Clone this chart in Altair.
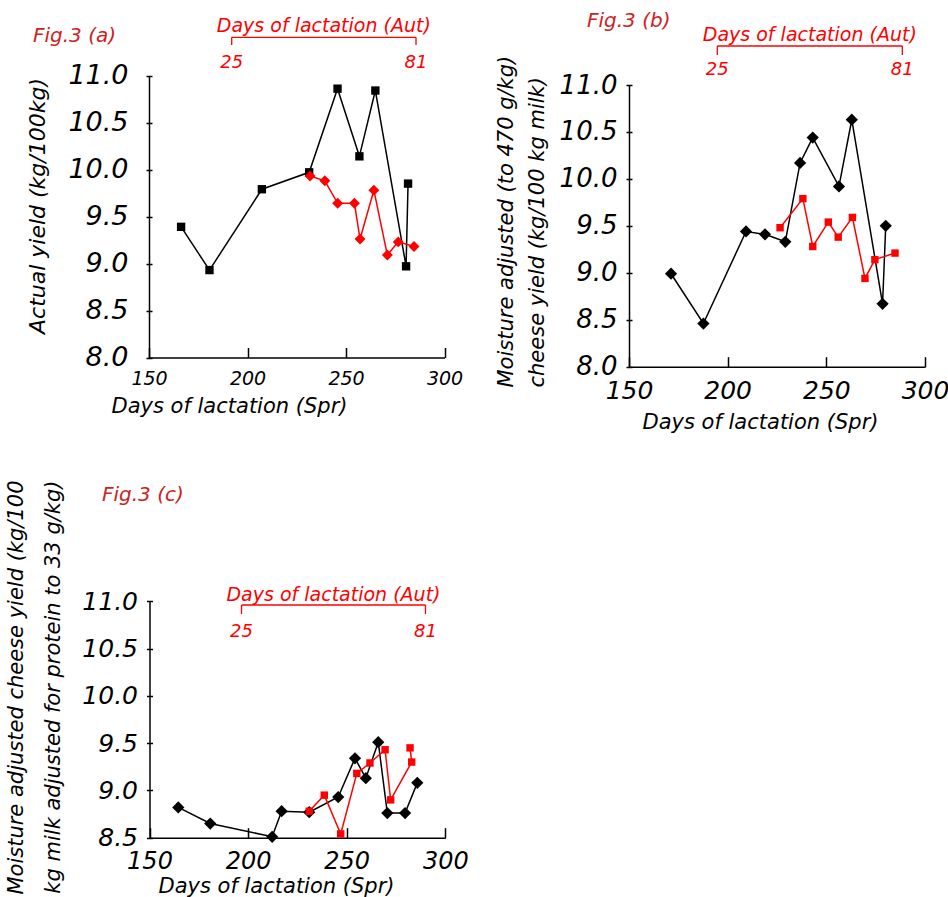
import altair as alt
import pandas as pd

# ------------------------------------------------------------------ data
spr_ticks = [150, 200, 250, 300]
aut_ticks = [25, 81]
yield_ticks_ab = [8.0, 8.5, 9.0, 9.5, 10.0, 10.5, 11.0]
yield_ticks_c = [8.5, 9.0, 9.5, 10.0, 10.5, 11.0]

# Fig.3 (a) actual yield
a_spr_days = [166.3, 180.7, 207.3, 231.3, 245.7, 256.8, 264.9, 280.5, 281.5]
a_spr_yield = [9.39, 8.93, 9.79, 9.97, 10.86, 10.14, 10.84, 8.97, 9.85]
a_aut_days = [48.8, 53.3, 57.2, 62.3, 64.0, 68.2, 72.3, 75.6, 80.4]
a_aut_yield = [9.93, 9.88, 9.64, 9.64, 9.26, 9.78, 9.09, 9.23, 9.18]

# Fig.3 (b) moisture adjusted yield
b_spr_days = [171.3, 187.7, 209.3, 218.9, 229.2, 236.7, 243.1, 256.4, 262.9, 278.5, 280.1]
b_spr_yield = [8.99, 8.46, 9.44, 9.41, 9.33, 10.17, 10.44, 9.92, 10.63, 8.67, 9.50]
b_aut_days = [44.0, 50.9, 53.9, 58.6, 61.6, 65.9, 69.7, 72.7, 78.8]
b_aut_yield = [9.48, 9.79, 9.28, 9.54, 9.38, 9.59, 8.94, 9.14, 9.21]

# Fig.3 (c) moisture + protein adjusted yield
c_spr_days = [164.6, 180.8, 212.2, 217.0, 231.0, 245.7, 254.2, 259.7, 266.0, 270.6, 279.6, 285.8]
c_spr_yield = [8.82, 8.65, 8.51, 8.78, 8.77, 8.93, 9.34, 9.13, 9.51, 8.76, 8.76, 9.08]
c_aut_days = [45.6, 50.2, 55.2, 60.1, 64.1, 68.7, 70.4, 76.8, 76.3]
c_aut_yield = [8.78, 8.95, 8.54, 9.18, 9.29, 9.43, 8.90, 9.30, 9.45]

# ------------------------------------------------------------------ styling / layout
FONT = "DejaVu Sans"
RED = "#ff0000"
FIGRED = "#cc2222"
W, H = 948, 897

panels = [
    dict(fig="Fig.3 (a)", spr=(a_spr_days, a_spr_yield), aut=(a_aut_days, a_aut_yield),
         x_range=[149, 444.5], y_range=[357.5, 75.5], y_domain=[8, 11], aut_domain=[-0.13, 89.66],
         yticks=yield_ticks_ab, ylab_size=27, ylab_pad=18, xlab_size=19, xlab_pad=12,
         ytitle="Actual yield (kg/100kg)", ytitle_x=37, ytitle_y=205.5, ytitle_align="center",
         ytitle_size=22, ytitle_lh=30,
         xtitle_x=229, xtitle_base=412, xtitle_size=21,
         black_shape="square", black_size=70, red_shape="diamond", red_size=120,
         aut_line_y=37.3, aut_tick_y2=45, aut_label_y=68, aut_title_y=31.7,
         fig_x=33, fig_y=41.7),
    dict(fig="Fig.3 (b)", spr=(b_spr_days, b_spr_yield), aut=(b_aut_days, b_aut_yield),
         x_range=[629, 925], y_range=[366.7, 85], y_domain=[8, 11], aut_domain=[-1.73, 87.87],
         yticks=yield_ticks_ab, ylab_size=26, ylab_pad=9, xlab_size=25, xlab_pad=12,
         ytitle=["Moisture adjusted (to 470 g/kg)", "cheese yield (kg/100 kg milk)"],
         ytitle_x=506, ytitle_y=387, ytitle_align="left", ytitle_size=21, ytitle_lh=31,
         xtitle_x=760, xtitle_base=428, xtitle_size=21,
         black_shape="diamond", black_size=150, red_shape="square", red_size=55,
         aut_line_y=46, aut_tick_y2=55, aut_label_y=75, aut_title_y=40.7,
         fig_x=587, fig_y=26.7),
    dict(fig="Fig.3 (c)", spr=(c_spr_days, c_spr_yield), aut=(c_aut_days, c_aut_yield),
         x_range=[149.5, 445.3], y_range=[837.7, 601.3], y_domain=[8.5, 11], aut_domain=[-3.0, 87.03],
         yticks=yield_ticks_c, ylab_size=25, ylab_pad=9, xlab_size=24, xlab_pad=12,
         ytitle=["Moisture adjusted cheese yield (kg/100", "kg milk adjusted for protein to 33 g/kg)"],
         ytitle_x=16, ytitle_y=480, ytitle_align="right", ytitle_size=21, ytitle_lh=37,
         xtitle_x=276, xtitle_base=892, xtitle_size=21,
         black_shape="diamond", black_size=150, red_shape="square", red_size=55,
         aut_line_y=605, aut_tick_y2=614, aut_label_y=636.7, aut_title_y=600.7,
         fig_x=102, fig_y=500.7),
]


def build_panel(p):
    x0 = p["x_range"][0]
    ybot = p["y_range"][0]
    spr_sc = alt.Scale(domain=[150, 300], range=p["x_range"], nice=False, zero=False)
    aut_sc = alt.Scale(domain=p["aut_domain"], range=p["x_range"], nice=False, zero=False)
    y_sc = alt.Scale(domain=p["y_domain"], range=p["y_range"], nice=False, zero=False)

    spr_df = pd.DataFrame({"day": p["spr"][0], "yld": p["spr"][1],
                           "ord": list(range(len(p["spr"][0])))})
    aut_df = pd.DataFrame({"day": p["aut"][0], "yld": p["aut"][1],
                           "ord": list(range(len(p["aut"][0])))})

    x_axis_main = alt.Axis(
        orient="bottom", offset=ybot - 10 - H, values=spr_ticks, format="d",
        domain=False, ticks=True, tickSize=10, tickWidth=1.5, tickColor="black", grid=False,
        labelFont=FONT, labelFontStyle="italic", labelFontSize=p["xlab_size"], labelColor="black",
        labelPadding=p["xlab_pad"], labelFlush=False, labelOverlap=False,
        title="Days of lactation (Spr)", titleFont=FONT, titleFontStyle="italic",
        titleFontWeight="normal", titleFontSize=p["xtitle_size"], titleColor="black",
        titleX=p["xtitle_x"], titleY=p["xtitle_base"] - (ybot - 10),
        titleAlign="center", titleBaseline="alphabetic")
    y_axis_main = alt.Axis(
        orient="left", offset=-(x0 + 3), values=p["yticks"], format=".1f",
        domain=False, ticks=True, tickSize=6, tickWidth=1.5, tickColor="black", grid=False,
        labelFont=FONT, labelFontStyle="italic", labelFontSize=p["ylab_size"], labelColor="black",
        labelPadding=p["ylab_pad"], labelOverlap=False, labelFlush=False,
        title=p["ytitle"], titleFont=FONT, titleFontStyle="italic", titleFontWeight="normal",
        titleFontSize=p["ytitle_size"], titleColor="black", titleAngle=270,
        titleX=p["ytitle_x"] - (x0 + 3), titleY=p["ytitle_y"], titleAlign=p["ytitle_align"],
        titleBaseline="middle", titleLineHeight=p["ytitle_lh"])
    x_axis_dom = alt.Axis(orient="bottom", offset=ybot - H, domain=True, domainColor="black",
                          domainWidth=1.5, ticks=False, labels=False, grid=False, title=None)
    y_axis_dom = alt.Axis(orient="left", offset=-x0, domain=True, domainColor="black",
                          domainWidth=1.5, ticks=False, labels=False, grid=False, title=None)

    black_line = alt.Chart(spr_df).mark_line(color="black", strokeWidth=1.5).encode(
        x=alt.X("day:Q", scale=spr_sc, axis=x_axis_main),
        y=alt.Y("yld:Q", scale=y_sc, axis=y_axis_main),
        order="ord:Q")
    black_pts = alt.Chart(spr_df).mark_point(
        shape=p["black_shape"], filled=True, size=p["black_size"], color="black", opacity=1).encode(
        x=alt.X("day:Q", scale=spr_sc, axis=x_axis_dom),
        y=alt.Y("yld:Q", scale=y_sc, axis=y_axis_dom))
    red_line = alt.Chart(aut_df).mark_line(color=RED, strokeWidth=1.5).encode(
        x=alt.X("day:Q", scale=aut_sc, axis=None),
        y=alt.Y("yld:Q", scale=y_sc, axis=None),
        order="ord:Q")
    red_pts = alt.Chart(aut_df).mark_point(
        shape=p["red_shape"], filled=True, size=p["red_size"], color=RED, opacity=1).encode(
        x=alt.X("day:Q", scale=aut_sc, axis=None),
        y=alt.Y("yld:Q", scale=y_sc, axis=None))

    # secondary (autumn) axis drawn as a red bracket through the autumn scale
    bracket_df = pd.DataFrame({"start": [aut_ticks[0]], "end": [aut_ticks[-1]],
                               "label": ["Days of lactation (Aut)"]})
    tick_df = pd.DataFrame({"tick": aut_ticks})
    aut_rule = alt.Chart(bracket_df).mark_rule(color=RED, strokeWidth=1.3).encode(
        x=alt.X("start:Q", scale=aut_sc, axis=None), x2="end:Q",
        y=alt.value(p["aut_line_y"]))
    aut_tk = alt.Chart(tick_df).mark_rule(color=RED, strokeWidth=1.3).encode(
        x=alt.X("tick:Q", scale=aut_sc, axis=None),
        y=alt.value(p["aut_line_y"]), y2=alt.value(p["aut_tick_y2"]))
    aut_lab = alt.Chart(tick_df).mark_text(
        color=RED, font=FONT, fontStyle="italic", fontSize=18, align="center",
        baseline="alphabetic").encode(
        x=alt.X("tick:Q", scale=aut_sc, axis=None),
        y=alt.value(p["aut_label_y"]),
        text=alt.Text("tick:Q", format="d"))
    aut_title = alt.Chart(bracket_df).transform_calculate(
        mid="(datum.start + datum.end) / 2").mark_text(
        color=RED, font=FONT, fontStyle="italic", fontSize=19, align="center",
        baseline="alphabetic").encode(
        x=alt.X("mid:Q", scale=aut_sc, axis=None),
        y=alt.value(p["aut_title_y"]),
        text="label:N")
    fig_lab = alt.Chart(pd.DataFrame({"t": [p["fig"]]})).mark_text(
        color=FIGRED, font=FONT, fontStyle="italic", fontSize=20, align="left",
        baseline="alphabetic").encode(
        x=alt.value(p["fig_x"]), y=alt.value(p["fig_y"]), text="t:N")

    return [black_line, black_pts, red_line, red_pts, aut_rule, aut_tk, aut_lab, aut_title, fig_lab]


layers = []
for p in panels:
    layers.extend(build_panel(p))

chart = alt.layer(*layers).resolve_scale(
    x="independent", y="independent"
).resolve_axis(
    x="independent", y="independent"
).properties(
    width=W, height=H, autosize=alt.AutoSizeParams(type="none"), padding=0,
    background="white"
).configure_view(stroke=None)

chart.save("out.html", embed_options={"renderer": "svg", "actions": False})
